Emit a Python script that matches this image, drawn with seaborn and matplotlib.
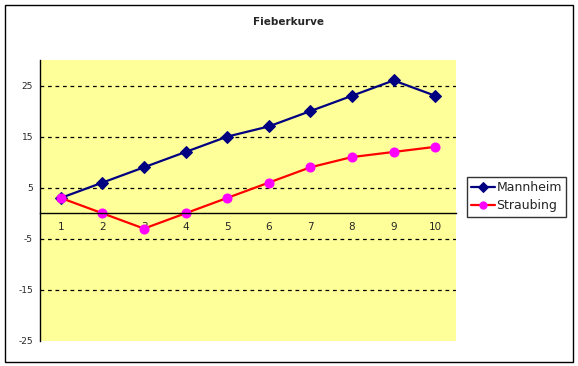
import matplotlib
matplotlib.use("Agg")
import matplotlib.pyplot as plt
import seaborn as sns
import pandas as pd
from matplotlib.patches import Rectangle
from matplotlib.ticker import FixedLocator

# data
tage = [1, 2, 3, 4, 5, 6, 7, 8, 9, 10]
mannheim = [3, 6, 9, 12, 15, 17, 20, 23, 26, 23]
straubing = [3, 0, -3, 0, 3, 6, 9, 11, 12, 13]
y_ticks = [-25, -15, -5, 5, 15, 25]
titel = "Fieberkurve"

df = pd.DataFrame({"Tag": tage, "Mannheim": mannheim, "Straubing": straubing})

sns.set_style("white")
plt.rcParams["font.family"] = ["DejaVu Sans"]

fig = plt.figure(figsize=(5.78, 3.66), dpi=100)
ax = fig.add_axes([40 / 578, 1 - 341 / 366, 416 / 578, 281 / 366])
ax.set_facecolor("#FFFF99")

sns.lineplot(data=df, x="Tag", y="Mannheim", ax=ax, color="#000080",
             linewidth=1.6, marker="D", markersize=6,
             markerfacecolor="#000080", markeredgecolor="#000080",
             label="Mannheim")
sns.lineplot(data=df, x="Tag", y="Straubing", ax=ax, color="#FF0000",
             linewidth=1.6, marker="o", markersize=6.5,
             markerfacecolor="#FF00FF", markeredgecolor="#FF00FF",
             label="Straubing")

ax.set_xlim(0.5, 10.5)
ax.set_ylim(-25, 30)
ax.set_xlabel("")
ax.set_ylabel("")

# y axis
ax.set_yticks(y_ticks)
ax.set_yticklabels([str(v) for v in y_ticks], fontsize=6.5)
for v in y_ticks[1:]:
    ax.axhline(v, color="black", linestyle=(0, (3, 3)), linewidth=0.9, zorder=1)
ax.tick_params(axis="y", direction="out", length=3, width=0.9, color="black", pad=2)

# x axis sits on zero, labels under the line, ticks between categories
ax.spines["bottom"].set_position(("data", 0))
ax.set_xticks(tage)
ax.set_xticklabels([str(t) for t in tage], fontsize=7.5)
ax.xaxis.set_minor_locator(FixedLocator([t + 0.5 for t in [0] + tage]))
ax.tick_params(axis="x", which="major", length=0, pad=6)
ax.tick_params(axis="x", which="minor", direction="out", length=4, width=0.9, color="black")

for side in ["top", "right"]:
    ax.spines[side].set_visible(False)
for side in ["left", "bottom"]:
    ax.spines[side].set_color("black")
    ax.spines[side].set_linewidth(1)

# legend outside the plot area, right side
ax.get_legend().remove()
handles, labels = ax.get_legend_handles_labels()
leg = fig.legend(handles, labels, loc="upper left",
                 bbox_to_anchor=(467 / 578, 1 - 177 / 366),
                 fontsize=9, frameon=True, fancybox=False, markerscale=0.8,
                 handlelength=1.9, handletextpad=0.1, borderpad=0.35,
                 labelspacing=0.4, borderaxespad=0)
leg.get_frame().set_edgecolor("black")
leg.get_frame().set_linewidth(1)

fig.text(0.5, 1 - 22 / 366, titel, ha="center", va="center",
         fontsize=7.5, fontweight="bold")

# thin frame round the whole chart
fig.patches.append(Rectangle((5 / 578, 4 / 366), 568 / 578, 357 / 366,
                             transform=fig.transFigure, fill=False,
                             edgecolor="black", linewidth=1))

fig.savefig("out.png", dpi=100)
